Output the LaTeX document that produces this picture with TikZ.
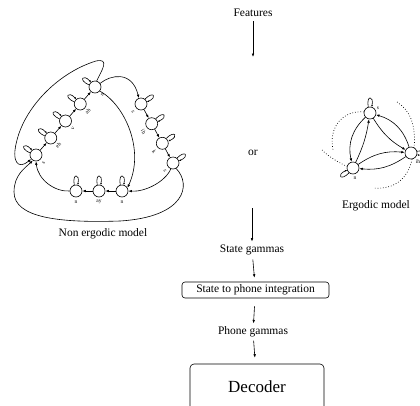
\documentclass[tikz,border=0pt]{standalone}
\usepackage{fontspec}
\setmainfont{Liberation Serif}
\usetikzlibrary{arrows.meta}
\newcommand\selfloop[2]{%
  \pgfmathsetmacro\lpa{#2+16}\pgfmathsetmacro\lpb{#2-16}%
  \pgfmathsetmacro\lpc{#2+11}\pgfmathsetmacro\lpd{#2-11}%
  \draw[looptip] (#1.\lpa) .. controls +(\lpc:12) and +(\lpd:12) .. (#1.\lpb);}
\begin{document}
\begin{tikzpicture}[x=1pt,y=1pt,line width=0.6pt,
  st/.style={circle,draw,line width=0.6pt,minimum size=12pt,inner sep=0pt},
  lab/.style={font=\fontsize{5.5}{6}\selectfont,inner sep=0pt},
  txt/.style={font=\fontsize{11.5}{13}\selectfont,inner sep=1pt},
  tip/.style={-{Latex[length=3.5pt,width=2.6pt]}},
  looptip/.style={-{Latex[length=2pt,width=1.8pt]}},
  dots/.style={dotted,line width=0.7pt}]
\useasboundingbox (0,0) rectangle (420,-405);
\clip (0,0) rectangle (420,-405);
% ---------- main column ----------
\node[txt] (feat) at (253,-13) {Features};
\coordinate (f1) at (253,-57);
\draw[tip, shorten <=3pt] (feat) -- (f1);
\node[txt] (or) at (253,-153) {or};
\coordinate (o1) at (252,-208);
\node[txt] (sg) at (252,-250) {State gammas};
\draw[tip, shorten >=2pt] (o1) -- (sg);
\node[txt,draw,rounded corners=3pt,minimum width=147pt,minimum height=16pt] (stp) at (255.5,-290) {State to phone integration};
\draw[tip, shorten <=3pt, shorten >=4pt] (sg) -- (stp);
\node[txt] (pg) at (253,-332) {Phone gammas};
\draw[tip, shorten <=8pt, shorten >=2pt] (stp) -- (pg);
\node[draw,rounded corners=4pt,minimum width=134pt,minimum height=46pt,inner sep=0pt,font=\fontsize{17}{20}\selectfont] (dec) at (257,-387) {Decoder};
\draw[tip, shorten <=2pt, shorten >=6pt] (pg) -- (dec);
% ---------- non ergodic model ----------
% seven
\node[st] (a1) at (36,-155) {};
\node[st] (a2) at (50.75,-138) {};
\node[st] (a3) at (65.5,-121) {};
\node[st] (a4) at (80.25,-104) {};
\node[st] (a5) at (95,-87) {};
% six
\node[st] (b1) at (141,-104) {};
\node[st] (b2) at (151.7,-123.7) {};
\node[st] (b3) at (162.3,-143.3) {};
\node[st] (b4) at (173,-163) {};
% nine
\node[st] (c1) at (122,-191) {};
\node[st] (c2) at (99,-191) {};
\node[st] (c3) at (76,-191) {};
% labels
\node[lab,rotate=49] at (43.5,-162.5) {s};
\node[lab,rotate=49] at (58.25,-145.5) {eh};
\node[lab,rotate=49] at (73,-128.5) {v};
\node[lab,rotate=49] at (87.75,-111.5) {ah};
\node[lab,rotate=49] at (102.5,-94.5) {n};
\node[lab,rotate=-61] at (133,-112) {s};
\node[lab,rotate=-61] at (143.7,-131.7) {ih};
\node[lab,rotate=-61] at (154.3,-151.3) {k};
\node[lab,rotate=-61] at (165,-171) {s};
\node[lab] at (122,-202) {n};
\node[lab] at (99,-202) {ay};
\node[lab] at (76,-202) {n};
% chain arrows
\draw[tip] (a1) -- (a2); \draw[tip] (a2) -- (a3); \draw[tip] (a3) -- (a4); \draw[tip] (a4) -- (a5);
\draw[tip] (b1) -- (b2); \draw[tip] (b2) -- (b3); \draw[tip] (b3) -- (b4);
\draw[tip] (c1) -- (c2); \draw[tip] (c2) -- (c3);
% self loops
\selfloop{a1}{145}\selfloop{a2}{145}\selfloop{a3}{145}\selfloop{a4}{145}\selfloop{a5}{145}
\selfloop{b1}{35}\selfloop{b2}{35}\selfloop{b3}{35}\selfloop{b4}{35}
\selfloop{c1}{90}\selfloop{c2}{90}\selfloop{c3}{90}
% word transitions
\draw[tip] (a5.75) .. controls (102,-70) and (110,-58) .. (96,-61)
   .. controls (60,-72) and (26,-105) .. (17,-140)
   .. controls (11,-162) and (18,-170) .. (a1.220);
\draw[tip] (a5.35) .. controls (110,-75) and (132,-70) .. (b1.110);
\draw[tip] (a5.-40) .. controls (125,-105) and (145,-150) .. (c1.30);
\draw[tip] (b4.-110) .. controls (165,-182) and (145,-192) .. (c1.0);
\draw[tip] (b4.-60) .. controls (192,-185) and (185,-217) .. (120,-221)
   .. controls (60,-223) and (14,-218) .. (14,-192)
   .. controls (14,-175) and (25,-168) .. (a1.240);
\draw[tip] (c3.180) .. controls (55,-192) and (38,-180) .. (a1.-90);
\node[txt] (nel) at (103,-234) {Non ergodic model};
% ---------- ergodic model ----------
\node[st] (es) at (370,-113) {};
\node[st] (ei) at (411,-153) {};
\node[st] (en) at (353,-168) {};
\node[lab] at (378,-108) {s};
\node[lab] at (418,-162) {ih};
\node[lab] at (355,-178) {n};
\selfloop{es}{90}\selfloop{ei}{0}\selfloop{en}{215}
\draw[tip] (es) to[bend right=30] (en);
\draw[tip] (en) to[bend right=8] (es);
\draw[tip] (ei) to[bend right=28] (es);
\draw[tip] (es) to[bend right=14] (ei);
\draw[tip] (en) to[bend left=20] (ei);
\draw[tip] (ei) to[bend left=20] (en);
\draw[dots] (es.170) .. controls (345,-110) and (328,-125) .. (333,-150);
\draw[dots] (322,-150) .. controls (330,-158) and (340,-163) .. (en.165);
\draw[dots] (397,-102) .. controls (410,-110) and (416,-125) .. (ei.60);
\draw[dots] (ei.-80) .. controls (408,-178) and (395,-190) .. (373,-188);
\node[txt] (erl) at (376,-206) {Ergodic model};
\end{tikzpicture}
\end{document}
